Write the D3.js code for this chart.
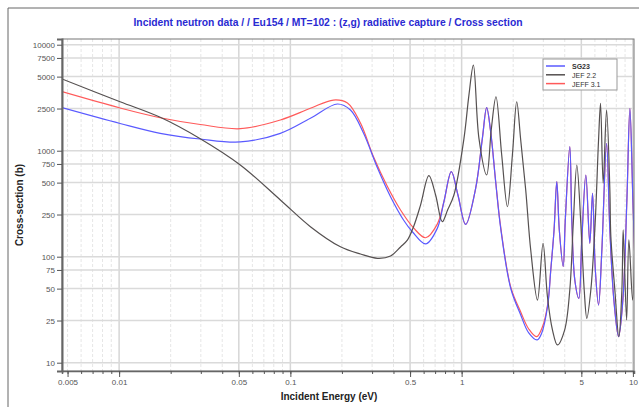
<!DOCTYPE html>
<html>
<head>
<meta charset="utf-8">
<script src="https://cdn.jsdelivr.net/npm/d3@7"></script>
<style>
  body { margin: 0; background: #fff; }
  svg { display: block; font-family: "Liberation Sans", Arial, sans-serif; }
</style>
</head>
<body>
<svg id="chart" width="639" height="407"></svg>
<script>
// energy (eV), cross section (b)
var sg23 = [[0.00464,2547],[0.01013,1806],[0.01738,1459],[0.02977,1289],[0.05099,1210],[0.0874,1459],
  [0.1309,2023],[0.1883,2758],[0.2243,2421],[0.2672,1469],[0.3227,687],[0.3845,368],[0.4579,222],
  [0.517,171],[0.6162,132],[0.7208,185],[0.788,330],[0.8706,634],[0.9515,382],[1.0554,202],
  [1.2073,442],[1.3216,1309],[1.40,2547],[1.4775,1510],[1.5805,510],[1.691,185],[1.934,50.4],
  [2.213,28.2],[2.465,19.1],[2.76,16.4],[2.937,19.1],[3.184,35],[3.315,74.9],[3.465,178.6],
  [3.594,510],[3.718,178.6],[3.917,80.6],[4.03,222],[4.281,1091],[4.398,222],[4.58,60.3],
  [4.833,40.5],[5.032,144],[5.311,590],[5.603,133.7],[5.812,396],[6.035,74.9],[6.302,35],
  [6.589,115.6],[7.019,1176],[7.337,178.6],[7.743,39],[8.25,17.6],[8.74,39],[9.224,343],
  [9.605,2512],[10.0,343],[10.41,48.5]];

var jef22 = [[0.00464,4750],[0.01013,2897],[0.01738,2066],[0.02977,1297],[0.05099,733],[0.0874,343],
  [0.1309,192],[0.196,124],[0.2566,106],[0.3227,96.6],[0.3845,101.5],[0.4398,123.5],[0.4832,144],[0.524,192],
  [0.5756,307],[0.6438,581],[0.7047,382],[0.7709,214],[0.828,276],[0.9015,382],[1.032,1309],
  [1.103,3350],[1.171,6428],[1.262,1309],[1.40,590],[1.492,1626],[1.587,3228],[1.714,910],
  [1.851,296],[1.979,910],[2.097,2897],[2.213,1262],[2.367,426],[2.532,115.6],[2.772,39],
  [2.988,134],[3.17,41.9],[3.393,20.3],[3.627,14.7],[3.993,20.3],[4.281,48.5],[4.487,206.5],
  [4.705,733],[4.966,206.5],[5.197,48.5],[5.383,26.2],[5.68,48.5],[6.02,206.5],[6.302,1262],
  [6.473,2800],[6.705,493],[7.019,2421],[7.337,426],[7.435,155],[7.846,48.5],[8.28,17.6],
  [8.625,48.5],[8.777,179],[9.19,25.3],[9.476,144],[9.96,39],[10.41,706]];

var jeff31 = [[0.00464,3606],[0.01013,2529],[0.01738,2047],[0.02977,1767],[0.05099,1613],[0.0874,1950],
  [0.1309,2512],[0.1784,3006],[0.2154,2818],[0.2566,1825],[0.3057,877],[0.3693,457],[0.4398,276],
  [0.524,187],[0.6162,151],[0.7208,203],[0.788,330],[0.8706,634],[0.9515,382],[1.0554,202],
  [1.2073,442],[1.3216,1309],[1.40,2547],[1.4775,1510],[1.5805,510],[1.691,190],[1.934,52],
  [2.213,30.1],[2.465,20.8],[2.74,17.6],[2.976,22.2],[3.184,36],[3.315,74.9],[3.465,178.6],
  [3.594,510],[3.718,178.6],[3.917,80.6],[4.03,222],[4.281,1091],[4.398,222],[4.58,60.3],
  [4.833,40.5],[5.032,144],[5.311,590],[5.603,133.7],[5.812,396],[6.035,74.9],[6.302,35],
  [6.589,115.6],[7.019,1176],[7.337,178.6],[7.743,39],[8.25,17.6],[8.74,39],[9.224,343],
  [9.605,2512],[10.0,343],[10.41,48.5]];

var xTicks = [0.005, 0.01, 0.05, 0.1, 0.5, 1, 5, 10];
var yTicks = [10, 25, 50, 75, 100, 250, 500, 750, 1000, 2500, 5000, 7500, 10000];

var series = [
  { name: "JEFF 3.1", data: jeff31, color: "#ff5a5a" },
  { name: "SG23", data: sg23, color: "#5a5aff" },
  { name: "JEF 2.2", data: jef22, color: "#555050" }
];
var legendOrder = ["SG23", "JEF 2.2", "JEFF 3.1"];

var svg = d3.select("#chart");
var pL = 62, pR = 634, pT = 39, pB = 371;

var x = d3.scaleLog().domain([0.00464, 10.15]).range([pL, pR]);
var y = d3.scaleLog().domain([8.35, 11320]).range([pB, pT]);

// outer frame
svg.append("path").attr("d", "M8,420V8H660").attr("fill", "none").attr("stroke", "#666").attr("stroke-width", 1);

// title
svg.append("text")
  .attr("x", 328).attr("y", 26)
  .attr("text-anchor", "middle")
  .attr("font-size", 11).attr("font-weight", "bold")
  .attr("fill", "#2a2ad2")
  .attr("textLength", 389).attr("lengthAdjust", "spacingAndGlyphs")
  .text("Incident neutron data / / Eu154 / MT=102 : (z,g) radiative capture / Cross section");

// minor positions along x (1..9 per decade)
var xMinor = [];
for (var k = -3; k <= 1; k++) {
  for (var m = 1; m <= 9; m++) {
    var v = m * Math.pow(10, k);
    if (v >= x.domain()[0] && v <= x.domain()[1]) xMinor.push(v);
  }
}
function isMajor(v) {
  return v > 0.006 && xTicks.some(function (t) { return Math.abs(t - v) / t < 1e-6; });
}

var grid = svg.append("g");
grid.selectAll(".vg").data(xMinor).enter().append("line")
  .attr("x1", d => x(d)).attr("x2", d => x(d))
  .attr("y1", pT).attr("y2", pB)
  .attr("stroke", d => isMajor(d) ? "#d6d6d6" : "#e6e6e6")
  .attr("stroke-width", d => isMajor(d) ? 1.5 : 1)
  .attr("stroke-dasharray", d => isMajor(d) ? null : "3,2");
grid.selectAll(".hg").data(yTicks).enter().append("line")
  .attr("x1", pL).attr("x2", pR)
  .attr("y1", d => y(d)).attr("y2", d => y(d))
  .attr("stroke", "#dadada").attr("stroke-width", 1.5);

// curves
svg.append("clipPath").attr("id", "clip").append("rect")
  .attr("x", pL).attr("y", pT).attr("width", pR - pL).attr("height", pB - pT);

var line = d3.line()
  .x(d => x(d[0])).y(d => y(d[1]))
  .curve(d3.curveCatmullRom.alpha(0.5));

svg.append("g").attr("clip-path", "url(#clip)")
  .selectAll("path").data(series).enter().append("path")
  .attr("d", d => line(d.data))
  .attr("fill", "none")
  .attr("stroke", d => d.color)
  .attr("stroke-width", 1.2);

// plot frame
svg.append("rect").attr("x", pL).attr("y", pT).attr("width", pR - pL).attr("height", pB - pT)
  .attr("fill", "none").attr("stroke", "#777").attr("stroke-width", 1);

// y axis
var yAxis = svg.append("g").attr("transform", "translate(" + pL + ",0)")
  .call(d3.axisLeft(y).tickValues(yTicks).tickSize(5).tickPadding(2).tickFormat(d => String(d)));
yAxis.select(".domain").attr("stroke", "#666").attr("stroke-width", 2);
yAxis.selectAll(".tick line").attr("stroke", "#555");
yAxis.selectAll("text").attr("font-size", 8).attr("fill", "#555").attr("font-family", "Liberation Sans, Arial, sans-serif");

// x axis: minor ticks then labelled ones
var xAxisG = svg.append("g").attr("transform", "translate(0," + pB + ")");
xAxisG.call(d3.axisBottom(x).tickValues(xMinor).tickSize(3).tickFormat(""));
xAxisG.select(".domain").attr("stroke", "#666").attr("stroke-width", 1.5);
xAxisG.selectAll(".tick line").attr("stroke", "#555");
var xAxisMaj = svg.append("g").attr("transform", "translate(0," + pB + ")")
  .call(d3.axisBottom(x).tickValues(xTicks).tickSize(6).tickPadding(2).tickFormat(d => String(d)));
xAxisMaj.select(".domain").remove();
xAxisMaj.selectAll(".tick line").attr("stroke", "#555");
xAxisMaj.selectAll("text").attr("font-size", 8).attr("fill", "#555").attr("font-family", "Liberation Sans, Arial, sans-serif");

// axis titles
svg.append("text")
  .attr("transform", "translate(23,205) rotate(-90)")
  .attr("text-anchor", "middle")
  .attr("font-size", 10).attr("font-weight", "bold").attr("fill", "#222")
  .text("Cross-section (b)");
svg.append("text")
  .attr("x", 329).attr("y", 400)
  .attr("text-anchor", "middle")
  .attr("font-size", 10).attr("font-weight", "bold").attr("fill", "#222")
  .text("Incident Energy (eV)");

// legend
var lg = svg.append("g").attr("transform", "translate(543,59)");
lg.append("rect").attr("width", 74).attr("height", 31)
  .attr("fill", "#fff").attr("stroke", "#999").attr("stroke-width", 1);
var items = lg.selectAll(".item").data(legendOrder).enter().append("g")
  .attr("transform", (d, i) => "translate(0," + (7 + i * 8.8) + ")");
items.append("line").attr("x1", 3).attr("x2", 22)
  .attr("stroke", d => series.find(s => s.name == d).color).attr("stroke-width", 1.5);
items.append("text").attr("x", 29).attr("y", 3)
  .attr("font-size", 7).attr("fill", "#333")
  .attr("font-weight", d => d == "SG23" ? "bold" : "normal")
  .text(d => d);
</script>
</body>
</html>
